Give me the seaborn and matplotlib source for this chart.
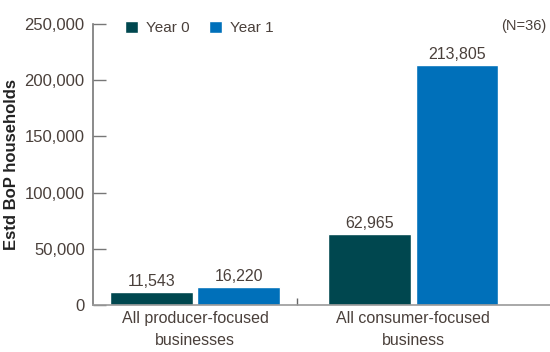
import matplotlib
matplotlib.use("Agg")
import matplotlib.pyplot as plt
import seaborn as sns
import pandas as pd
from matplotlib.patches import Patch
from matplotlib.ticker import FuncFormatter, FixedLocator

categories = ["All producer-focused\nbusinesses", "All consumer-focused\nbusiness"]
series = ["Year 0", "Year 1"]
year0 = [11543, 62965]
year1 = [16220, 213805]
yticks = [0, 50000, 100000, 150000, 200000, 250000]
note = "(N=36)"
ylabel = "Estd BoP households"

colors = {"Year 0": "#00474F", "Year 1": "#0070BA"}
text_color = "#4A403B"

df = pd.DataFrame({
    "category": categories * 2,
    "series": [series[0]] * 2 + [series[1]] * 2,
    "value": year0 + year1,
})

sns.set_style("white")
plt.rcParams["font.family"] = ["Liberation Sans", "DejaVu Sans"]

fig = plt.figure(figsize=(5.5, 3.52), dpi=100)
ax = fig.add_axes([93/550, 1-305/352, 1-93/550, (305-24)/352])

sns.barplot(data=df, x="category", y="value", hue="series", palette=colors,
            order=categories, hue_order=series, width=0.8, gap=0.05,
            saturation=1, ax=ax, legend=False)

for cont in ax.containers:
    ax.bar_label(cont, labels=[f"{v:,.0f}" for v in cont.datavalues],
                 padding=2, fontsize=11.5, color=text_color)

ax.set_ylim(0, 250000)
ax.set_xlim(-0.468, 1.626)
ax.set_yticks(yticks)
ax.yaxis.set_major_formatter(FuncFormatter(lambda v, p: f"{v:,.0f}"))
ax.tick_params(axis="y", direction="in", length=9, width=1, color="#777777",
               labelsize=12, labelcolor=text_color, pad=6, left=True)
ax.tick_params(axis="x", length=0, labelsize=11.5, labelcolor=text_color, pad=4)
for lbl in ax.get_xticklabels():
    lbl.set_linespacing(1.6)
ax.xaxis.set_minor_locator(FixedLocator([0.468]))
ax.tick_params(axis="x", which="minor", direction="in", length=5, width=1,
               color="#666666", bottom=True)
ax.set_xlabel("")
ax.set_ylabel(ylabel, fontsize=12, fontweight="bold", color="#222222", labelpad=4)
for s in ["top", "right"]:
    ax.spines[s].set_visible(False)
ax.spines["left"].set_color("#777777")
ax.spines["bottom"].set_color("#999999")
ax.spines["left"].set_linewidth(1.2)
ax.spines["bottom"].set_linewidth(1.2)

handles = [Patch(facecolor=colors[s], label=s) for s in series]
ax.legend(handles=handles, loc="upper left", bbox_to_anchor=(0.070, 1.012),
          ncol=2, frameon=False, borderpad=0, borderaxespad=0,
          handlelength=0.85, handleheight=0.85,
          handletextpad=0.5, columnspacing=1.3, fontsize=11,
          labelcolor=text_color)
ax.text(0.993, 1.018, note, transform=ax.transAxes, ha="right", va="top",
        fontsize=10.5, color=text_color)

fig.savefig("out.png", dpi=100)
